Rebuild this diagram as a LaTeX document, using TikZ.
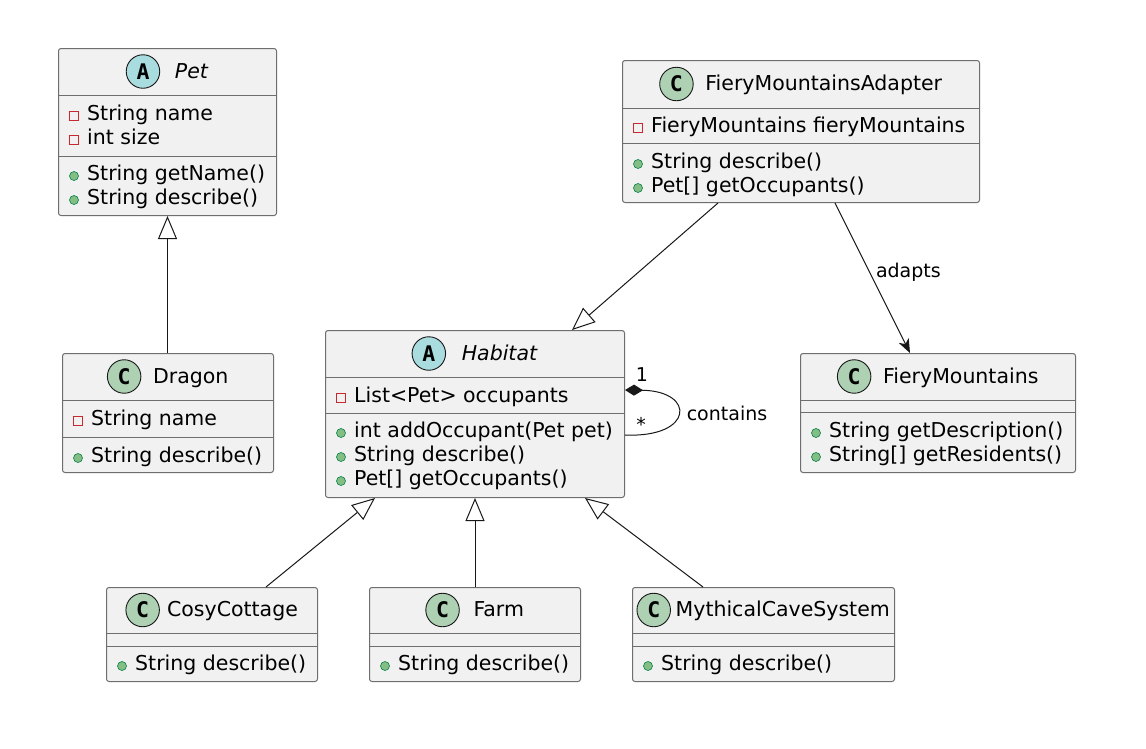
\documentclass[tikz,border=0pt]{standalone}
\usepackage{fontspec}
\setmainfont{DejaVu Sans}
\newfontfamily\iconfont{DejaVu Sans Mono}
\usetikzlibrary{arrows.meta,calc}
\definecolor{boxfill}{HTML}{F1F1F1}
\definecolor{boxline}{HTML}{6E6E6E}
\definecolor{absfill}{HTML}{A9DCDF}
\definecolor{clsfill}{HTML}{ADD1B2}
\definecolor{privred}{HTML}{C82930}
\definecolor{pubfill}{HTML}{84BE84}
\definecolor{publine}{HTML}{038048}
\definecolor{linec}{HTML}{181818}
\tikzset{
  classbox/.style={draw=boxline, fill=boxfill, line width=1pt, rounded corners=2.5pt, inner sep=0pt, anchor=north west},
  sepline/.style={draw=boxline, line width=1pt},
  hdtext/.style={inner sep=0pt, text height=15pt, text depth=2pt, font=\fontsize{20.5}{24}\selectfont},
  icon/.style={circle, draw=linec, line width=0.9pt, minimum size=33.5pt, inner sep=0pt, font=\iconfont\bfseries\fontsize{21.5}{21.5}\selectfont},
  rowtext/.style={anchor=base west, inner sep=0pt, font=\fontsize{20.5}{24}\selectfont},
  privico/.style={draw=privred, line width=1pt},
  pubico/.style={fill=pubfill, draw=publine, line width=0.6pt},
  lbl/.style={inner sep=0pt, font=\fontsize{19}{22}\selectfont},
  inh/.style={draw=linec, line width=1pt, -{Triangle[fill=white, length=23pt, width=19pt, line width=1pt]}},
  assoc/.style={draw=linec, line width=1pt, -{Stealth[length=14pt, width=11pt, inset=4pt]}},
  comp/.style={draw=linec, line width=1pt, {Diamond[length=18pt, width=11pt, fill=linec]}-}
}
% private row: name, box, baseline offset, text
\newcommand{\prow}[4]{%
  \node[rowtext] (#1) at ($(#2.north west)+(29,#3)$) {#4};
  \draw[privico] ($(#2.north west)+(11.5,#3-8.5)$) rectangle ++(9,9);}
% public row
\newcommand{\urow}[4]{%
  \node[rowtext] (#1) at ($(#2.north west)+(29,#3)$) {#4};
  \filldraw[pubico] ($(#2.north west)+(16,#3-4)$) circle[radius=4.5pt];}
% header: name, box, center offset, gap, icon letter, icon colour, text
\newcommand{\hdr}[7]{%
  \node[hdtext] (#1) at ($(#2.north)+(0,#3)$) {\hspace*{#4}#7};
  \node[icon, fill=#6] (#1-i) at ($(#1.west)+(16.75,0)$) {#5};}
% separator: box, offset
\newcommand{\sepl}[2]{%
  \draw[sepline] ($(#1.north west)+(0,#2)$) -- ($(#1.north east)+(0,#2)$);}

\begin{document}
\begin{tikzpicture}[x=1pt,y=-1pt]
\path[use as bounding box, fill=white] (0,0) rectangle (1146,748);

% Pet
\node[classbox, minimum width=218pt, minimum height=167pt] (pet) at (58,48) {};
\sepl{pet}{47}\sepl{pet}{108}
\hdr{peth}{pet}{23.5}{48.5pt}{A}{absfill}{\textit{Pet}}
\prow{pet1}{pet}{72}{String name}
\prow{pet2}{pet}{96}{int size}
\urow{pet3}{pet}{132}{String getName()}
\urow{pet4}{pet}{156}{String describe()}

% Dragon
\node[classbox, minimum width=211pt, minimum height=119pt] (dragon) at (62,353) {};
\sepl{dragon}{47}\sepl{dragon}{84}
\hdr{dragonh}{dragon}{23.5}{45.5pt}{C}{clsfill}{Dragon}
\prow{dragon1}{dragon}{72}{String name}
\urow{dragon2}{dragon}{109}{String describe()}

% Habitat
\node[classbox, minimum width=299pt, minimum height=167pt] (hab) at (325,330) {};
\sepl{hab}{47}\sepl{hab}{83}
\hdr{habh}{hab}{23.5}{49.5pt}{A}{absfill}{\textit{Habitat}}
\prow{hab1}{hab}{72}{List<Pet> occupants}
\urow{hab2}{hab}{107}{int addOccupant(Pet pet)}
\urow{hab3}{hab}{131}{String describe()}
\urow{hab4}{hab}{155}{Pet[] getOccupants()}

% FieryMountainsAdapter
\node[classbox, minimum width=357pt, minimum height=142pt] (fma) at (622,60) {};
\sepl{fma}{48}\sepl{fma}{83}
\hdr{fmah}{fma}{24}{45.5pt}{C}{clsfill}{FieryMountainsAdapter}
\prow{fma1}{fma}{72}{FieryMountains fieryMountains}
\urow{fma2}{fma}{108}{String describe()}
\urow{fma3}{fma}{132}{Pet[] getOccupants()}

% FieryMountains
\node[classbox, minimum width=275pt, minimum height=119pt] (fm) at (800,353) {};
\sepl{fm}{47}\sepl{fm}{59}
\hdr{fmh}{fm}{23.5}{45.5pt}{C}{clsfill}{FieryMountains}
\urow{fm1}{fm}{84}{String getDescription()}
\urow{fm2}{fm}{108}{String[] getResidents()}

% CosyCottage
\node[classbox, minimum width=211pt, minimum height=94pt] (cosy) at (106,587) {};
\sepl{cosy}{46}\sepl{cosy}{59}
\hdr{cosyh}{cosy}{23}{41pt}{C}{clsfill}{CosyCottage}
\urow{cosy1}{cosy}{83}{String describe()}

% Farm
\node[classbox, minimum width=211pt, minimum height=94pt] (farm) at (369,587) {};
\sepl{farm}{46}\sepl{farm}{59}
\hdr{farmh}{farm}{23}{47.5pt}{C}{clsfill}{Farm}
\urow{farm1}{farm}{83}{String describe()}

% MythicalCaveSystem
\node[classbox, minimum width=262pt, minimum height=94pt] (myth) at (632,587) {};
\sepl{myth}{46}\sepl{myth}{59}
\hdr{mythh}{myth}{23}{38.5pt}{C}{clsfill}{MythicalCaveSystem}
\urow{myth1}{myth}{83}{String describe()}

% connectors
\draw[inh] (dragon.north -| pet.south) -- (pet.south);
\draw[inh] ([xshift=96pt]fma.south west) -- ([xshift=247pt]hab.north west);
\draw[assoc] ([xshift=213pt]fma.south west) -- node[lbl, anchor=west, pos=0.46, xshift=6pt] (adl) {adapts} ([xshift=110pt]fm.north west);
\draw[inh] ([xshift=160pt]cosy.north west) -- ([xshift=50pt]hab.south west);
\draw[inh] (farm.north) -- (farm.north |- hab.south);
\draw[inh] ([xshift=71pt]myth.north west) -- ([xshift=260pt]hab.south west);

\coordinate (cA) at ($(hab.north east)+(0,60)$);
\coordinate (cB) at ($(hab.north east)+(0,105)$);
\draw[comp] (cA) .. controls (696,391) and (694,438) .. (cB);
\node[lbl] (m1) at (642,375) {1};
\node[lbl] (m2) at (641,424) {*};
\node[lbl] (cl) at (727,413) {contains};
\end{tikzpicture}
\end{document}
